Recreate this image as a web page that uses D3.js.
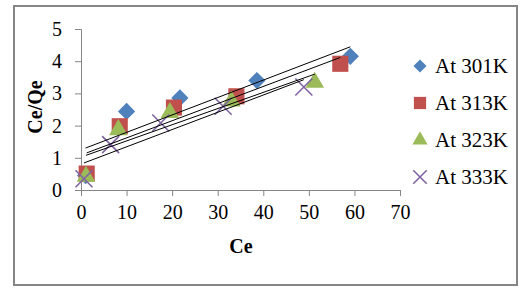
<!DOCTYPE html>
<html>
<head>
<meta charset="utf-8">
<script src="https://cdn.jsdelivr.net/npm/d3@7"></script>
<style>
  body { margin: 0; background: #fff; }
  svg text { font-family: "Liberation Serif", "Times New Roman", "DejaVu Serif", serif; }
</style>
</head>
<body>
<div id="container"></div>
<script>
// data
let series = ['At 301K', 'At 313K', 'At 323K', 'At 333K']
let ce301 = [1.0, 10.0, 21.7, 38.6, 59.1]
let y301 = [0.45, 2.44, 2.86, 3.40, 4.15]
let ce313 = [1.25, 8.5, 20.4, 34.1, 56.9]
let y313 = [0.51, 1.98, 2.56, 2.91, 3.92]
let ce323 = [1.1, 8.2, 19.5, 33.0, 51.3]
let y323 = [0.42, 1.87, 2.40, 2.76, 3.34]
let ce333 = [0.66, 6.5, 17.5, 31.2, 48.9]
let y333 = [0.35, 1.41, 2.08, 2.60, 3.20]
let xTicks = [0, 10, 20, 30, 40, 50, 60, 70]
let yTicks = [0, 1, 2, 3, 4, 5]

let colors = ['#4F81BD', '#C0504D', '#9BBB59', '#8064A2']
let shapes = ['diamond', 'square', 'triangle', 'cross']
let xs = [ce301, ce313, ce323, ce333]
let ys = [y301, y313, y323, y333]

let width = 531, height = 296
let serif = '"Liberation Serif", "Times New Roman", "DejaVu Serif", serif'

let svg = d3.select('#container')
  .append('svg')
  .attr('width', width)
  .attr('height', height)

// outer frame
svg.append('rect')
  .attr('x', 14).attr('y', 6)
  .attr('width', 503).attr('height', 279)
  .style('fill', '#fff')
  .style('stroke', '#868686')
  .style('stroke-width', 2)

let scale_x = d3.scaleLinear().domain([0, 70]).range([81, 400])
let scale_y = d3.scaleLinear().domain([0, 5]).range([190, 29])

// axes
let x_axis = d3.axisBottom(scale_x).tickValues(xTicks).tickFormat(d3.format('d'))
  .tickSizeOuter(0).tickSize(6).tickPadding(9)
let y_axis = d3.axisLeft(scale_y).tickValues(yTicks).tickFormat(d3.format('d'))
  .tickSizeOuter(0).tickSize(6).tickPadding(13)

svg.append('g')
  .attr('transform', 'translate(0,' + scale_y(0) + ')')
  .call(x_axis)
svg.append('g')
  .attr('transform', 'translate(' + scale_x(0) + ',0)')
  .call(y_axis)

svg.selectAll('.domain, .tick line').style('stroke', '#868686')
svg.selectAll('.tick text')
  .attr('font-family', null)
  .style('font-family', serif)
  .style('font-size', '20px')
  .style('fill', '#000')

// axis titles
svg.append('text')
  .text('Ce')
  .attr('x', 241).attr('y', 253)
  .style('text-anchor', 'middle')
  .style('font-family', serif)
  .style('font-weight', 'bold')
  .style('font-size', '20px')

svg.append('text')
  .text('Ce/Qe')
  .attr('transform', 'translate(42,107) rotate(-90)')
  .style('text-anchor', 'middle')
  .style('font-family', serif)
  .style('font-weight', 'bold')
  .style('font-size', '20px')

function symbolFor(shape, size) {
  if (shape === 'diamond') return d3.symbol(d3.symbolDiamond2, size)()
  if (shape === 'square') return d3.symbol(d3.symbolSquare, size)()
  if (shape === 'triangle') return d3.symbol(d3.symbolTriangle, size)()
  return d3.symbol(d3.symbolTimes, size)()
}

function drawMarker(g, shape, color, size) {
  let p = g.append('path').attr('d', symbolFor(shape, size))
  if (shape === 'cross') {
    p.style('fill', 'none').style('stroke', color).style('stroke-width', 1.6)
  } else {
    p.style('fill', color)
  }
}

let sizes = [190, 260, 150, 190]

// points
series.forEach(function (name, k) {
  let g = svg.append('g')
  xs[k].forEach(function (v, i) {
    let m = g.append('g')
      .attr('transform', 'translate(' + scale_x(v) + ',' + scale_y(ys[k][i]) + ')')
    drawMarker(m, shapes[k], colors[k], sizes[k])
  })
})

// linear trendlines (least squares on each series)
series.forEach(function (name, k) {
  let x = xs[k], y = ys[k]
  let mx = d3.mean(x), my = d3.mean(y)
  let sxy = d3.sum(x, function (d, i) { return (d - mx) * (y[i] - my) })
  let sxx = d3.sum(x, function (d) { return (d - mx) * (d - mx) })
  let b = sxy / sxx, a = my - b * mx
  let x0 = d3.min(x), x1 = d3.max(x)
  svg.append('line')
    .attr('x1', scale_x(x0)).attr('y1', scale_y(a + b * x0))
    .attr('x2', scale_x(x1)).attr('y2', scale_y(a + b * x1))
    .style('stroke', '#000')
    .style('stroke-width', 1)
})

// legend
let legend = svg.selectAll('.legend')
  .data(series).enter().append('g')
  .attr('class', 'legend')
  .attr('transform', function (d, i) { return 'translate(420,' + (66 + i * 37) + ')' })

legend.each(function (d, i) {
  drawMarker(d3.select(this), shapes[i], colors[i], [110, 150, 100, 120][i])
})

legend.append('text')
  .text(function (d) { return d })
  .attr('x', 15)
  .attr('y', 7)
  .style('font-family', serif)
  .style('font-size', '21px')
</script>
</body>
</html>
